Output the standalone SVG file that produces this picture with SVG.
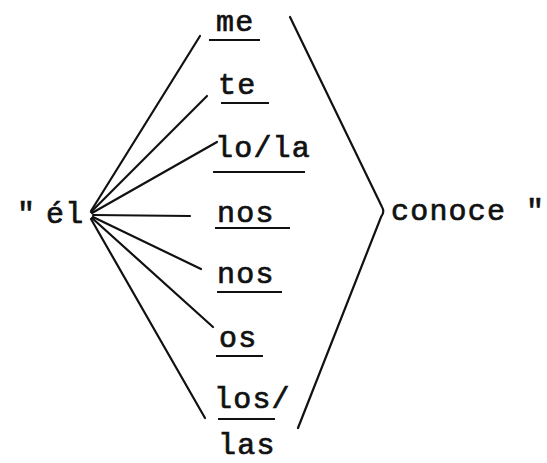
<svg xmlns="http://www.w3.org/2000/svg" width="547" height="463" viewBox="0 0 547 463">
<style>
text{font-family:"Liberation Mono","DejaVu Sans Mono",monospace;font-size:30px;letter-spacing:1.2px;fill:#111;stroke:#111;stroke-width:0.7}
.c{stroke:#111;stroke-width:2.2;fill:none;stroke-linecap:round}
.u{stroke:#111;stroke-width:1.8}
</style>
<rect width="547" height="463" fill="#fff"/>
<g id="el"><text x="17" y="223">"</text><text x="46" y="223">él</text></g>
<g id="me"><text x="216" y="31">me</text><line class="u" x1="209" y1="40" x2="260" y2="40"/></g>
<g id="te"><text x="218" y="94">te</text><line class="u" x1="221" y1="103" x2="269" y2="103"/></g>
<g id="lola"><text x="215" y="157">lo/la</text><line class="u" x1="213" y1="172" x2="305" y2="172"/></g>
<g id="nos1"><text x="217" y="222">nos</text><line class="u" x1="215" y1="228" x2="290" y2="228"/></g>
<g id="nos2"><text x="217" y="283">nos</text><line class="u" x1="217" y1="292" x2="282" y2="292"/></g>
<g id="os"><text x="219" y="347">os</text><line class="u" x1="216" y1="356" x2="263" y2="356"/></g>
<g id="loslas"><text x="214" y="408">los/</text><line class="u" x1="218" y1="419" x2="275" y2="419"/><text x="218" y="454">las</text></g>
<g id="conoce"><text x="391" y="220">conoce</text><text x="526" y="220">"</text></g>
<g id="connectors">
<line class="c" x1="91" y1="211" x2="200" y2="36"/>
<line class="c" x1="91" y1="212" x2="207" y2="96"/>
<line class="c" x1="92" y1="213" x2="217" y2="142"/>
<line class="c" x1="93" y1="215" x2="190" y2="216"/>
<line class="c" x1="93" y1="217" x2="201" y2="269"/>
<line class="c" x1="92" y1="218" x2="213" y2="327"/>
<line class="c" x1="91" y1="219" x2="205" y2="418"/>
<path class="c" d="M290,17 L382,207 Q385,212 381,217 L298,428"/>
</g>
</svg>
